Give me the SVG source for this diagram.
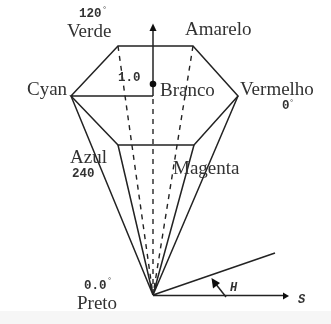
<svg xmlns="http://www.w3.org/2000/svg" width="331" height="324" viewBox="0 0 331 324">
<style>
.l{fill:none;stroke:#222;stroke-width:1.5}
.d{fill:none;stroke:#222;stroke-width:1.4;stroke-dasharray:5 5}
.a{fill:#111;stroke:none}
.t{font-family:"Liberation Serif",serif;font-size:19px;fill:#333}
.m{font-family:"Liberation Mono",monospace;font-size:12.500px;font-weight:bold;fill:#333}
.g{font-family:"Liberation Sans",sans-serif;font-size:8px;fill:#333}
.i{font-family:"Liberation Mono",monospace;font-size:12px;font-weight:bold;font-style:italic;fill:#333}
</style>
<defs><filter id="b" x="-5%" y="-5%" width="110%" height="110%"><feGaussianBlur stdDeviation="0.35"/></filter></defs>
<rect width="331" height="324" fill="#fff"/>
<rect y="311" width="331" height="13" fill="#f6f6f6"/>
<g filter="url(#b)">
<g id="connectors">
<path class="l" d="M71 96L118 46H193L238 96L194 145H118L71 96H153"/>
<path class="l" d="M153 96V30"/>
<path class="a" d="M153 23.500L149.500 31H156.500Z"/>
<circle class="a" cx="153" cy="84" r="3.300"/>
<path class="l" d="M71 96L153 295L118 145M238 96L153 295L194 145"/>
<path class="d" d="M153 99V295M118 46L153 295M193 46L153 295"/>
<path class="l" d="M153 295.500H283M153 295L275 253"/>
<path class="a" d="M289 296L283 292.500V299.500Z"/>
<path class="l" d="M226 297L215 283"/>
<path class="a" d="M211.500 278L220 283L213 288.500Z"/>
</g>
<g id="verde"><text class="m" x="79" y="17">120</text><text class="g" x="103" y="12">°</text><text class="t" x="67" y="37">Verde</text></g>
<g id="amarelo"><text class="t" x="185" y="35">Amarelo</text></g>
<g id="cyan"><text class="t" x="27" y="95">Cyan</text></g>
<g id="branco"><text class="m" x="118" y="81" font-size="12">1.0</text><text class="t" x="160" y="96">Branco</text></g>
<g id="vermelho"><text class="t" x="240" y="95">Vermelho</text><text class="m" x="282" y="109">0</text><text class="g" x="290" y="105">°</text></g>
<g id="azul"><text class="t" x="70" y="163">Azul</text><text class="m" x="72" y="177">240</text></g>
<g id="magenta"><text class="t" x="173" y="174">Magenta</text></g>
<g id="preto"><text class="m" x="84" y="289">0.0</text><text class="g" x="108" y="283">°</text><text class="t" x="77" y="309">Preto</text></g>
<g id="axis-labels"><text class="i" x="230" y="291">H</text><text class="i" x="298" y="303" font-size="15">S</text></g>
</g>
</svg>
